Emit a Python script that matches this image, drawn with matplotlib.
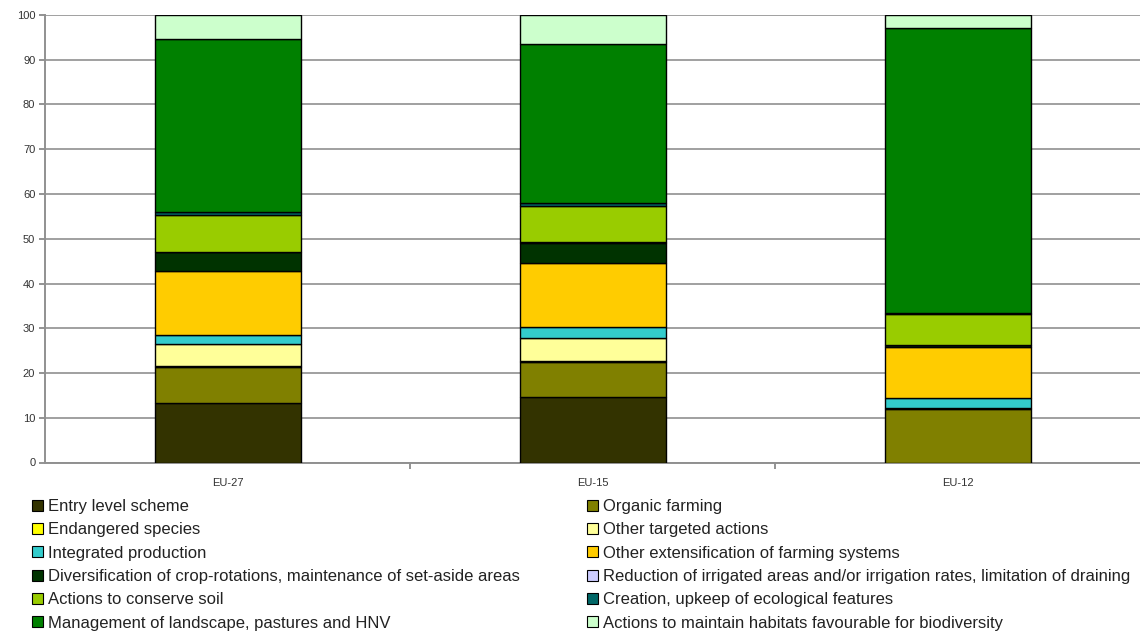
import numpy as np
import matplotlib.pyplot as plt
from matplotlib.patches import Patch

plt.rcParams['font.family'] = ['Liberation Sans', 'DejaVu Sans']

regions = ["EU-27", "EU-15", "EU-12"]

measures = [
    "Entry level scheme",
    "Organic farming",
    "Endangered species",
    "Other targeted actions",
    "Integrated production",
    "Other extensification of farming systems",
    "Diversification of crop-rotations, maintenance of set-aside areas",
    "Reduction of irrigated areas and/or irrigation rates, limitation of draining",
    "Actions to conserve soil",
    "Creation, upkeep of ecological features",
    "Management of landscape, pastures and HNV",
    "Actions to maintain habitats favourable for biodiversity",
]

colours = ["#333300", "#808000", "#FFFF00", "#FFFF99", "#33CCCC", "#FFCC00",
           "#003300", "#CCCCFF", "#99CC00", "#006666", "#008000", "#CCFFCC"]

# share of each measure (%), per region: EU-27, EU-15, EU-12
entry = [13.2, 14.6, 0.0]
organic = [8.1, 7.8, 11.9]
endangered = [0.3, 0.2, 0.3]
targeted = [4.8, 5.2, 0.0]
integrated = [2.2, 2.4, 2.2]
extensification = [14.1, 14.3, 11.4]
diversification = [4.3, 4.5, 0.4]
irrigation = [0.1, 0.2, 0.0]
soil = [8.2, 8.1, 6.9]
ecological = [0.7, 0.7, 0.2]
landscape = [38.6, 35.6, 63.8]
habitats = [5.4, 6.4, 2.9]

series = [entry, organic, endangered, targeted, integrated, extensification,
          diversification, irrigation, soil, ecological, landscape, habitats]

fig = plt.figure(figsize=(11.4, 6.37), dpi=100)
ax = fig.add_axes([45 / 1140, 1 - 462.5 / 637, 1 - 45 / 1140, 447.5 / 637])

x = np.arange(len(regions))
bottom = np.zeros(len(regions))
for vals, col in zip(series, colours):
    ax.bar(x, vals, width=0.4, bottom=bottom, color=col,
           edgecolor="black", linewidth=1.0, zorder=3)
    bottom += np.array(vals)

ax.set_xlim(-0.5, 2.5)
ax.set_ylim(0, 100)
ax.set_yticks(np.arange(0, 101, 10))
ax.yaxis.grid(True, color="#a0a0a0", linewidth=1.4, zorder=0)
ax.set_xticks(x)
ax.set_xticklabels(regions)
ax.set_xticks([0.5, 1.5], minor=True)
ax.tick_params(axis="x", which="major", length=0, pad=11, labelsize=8, labelcolor="#333333")
ax.tick_params(axis="x", which="minor", length=4, color="#808080", width=1.2)
ax.tick_params(axis="y", length=4, color="#808080", width=1.2, labelsize=8,
               labelcolor="#333333", pad=3)
for s in ["top", "right"]:
    ax.spines[s].set_visible(False)
for s in ["left", "bottom"]:
    ax.spines[s].set_color("#909090")
    ax.spines[s].set_linewidth(1.4)

handles = [Patch(facecolor=c, edgecolor="black", linewidth=0.8) for c in colours]
left_idx = list(range(0, 12, 2))
right_idx = list(range(1, 12, 2))
common = dict(loc="upper left", frameon=False, fontsize=12, handlelength=0.65,
              handleheight=0.65, handletextpad=0.3, labelspacing=0.5,
              borderaxespad=0, borderpad=0, labelcolor="#222222")
leg1 = fig.legend([handles[i] for i in left_idx], [measures[i] for i in left_idx],
                  bbox_to_anchor=(32 / 1140, 1 - 499 / 637), **common)
leg2 = fig.legend([handles[i] for i in right_idx], [measures[i] for i in right_idx],
                  bbox_to_anchor=(587 / 1140, 1 - 499 / 637), **common)

fig.savefig("out.png", dpi=100)
